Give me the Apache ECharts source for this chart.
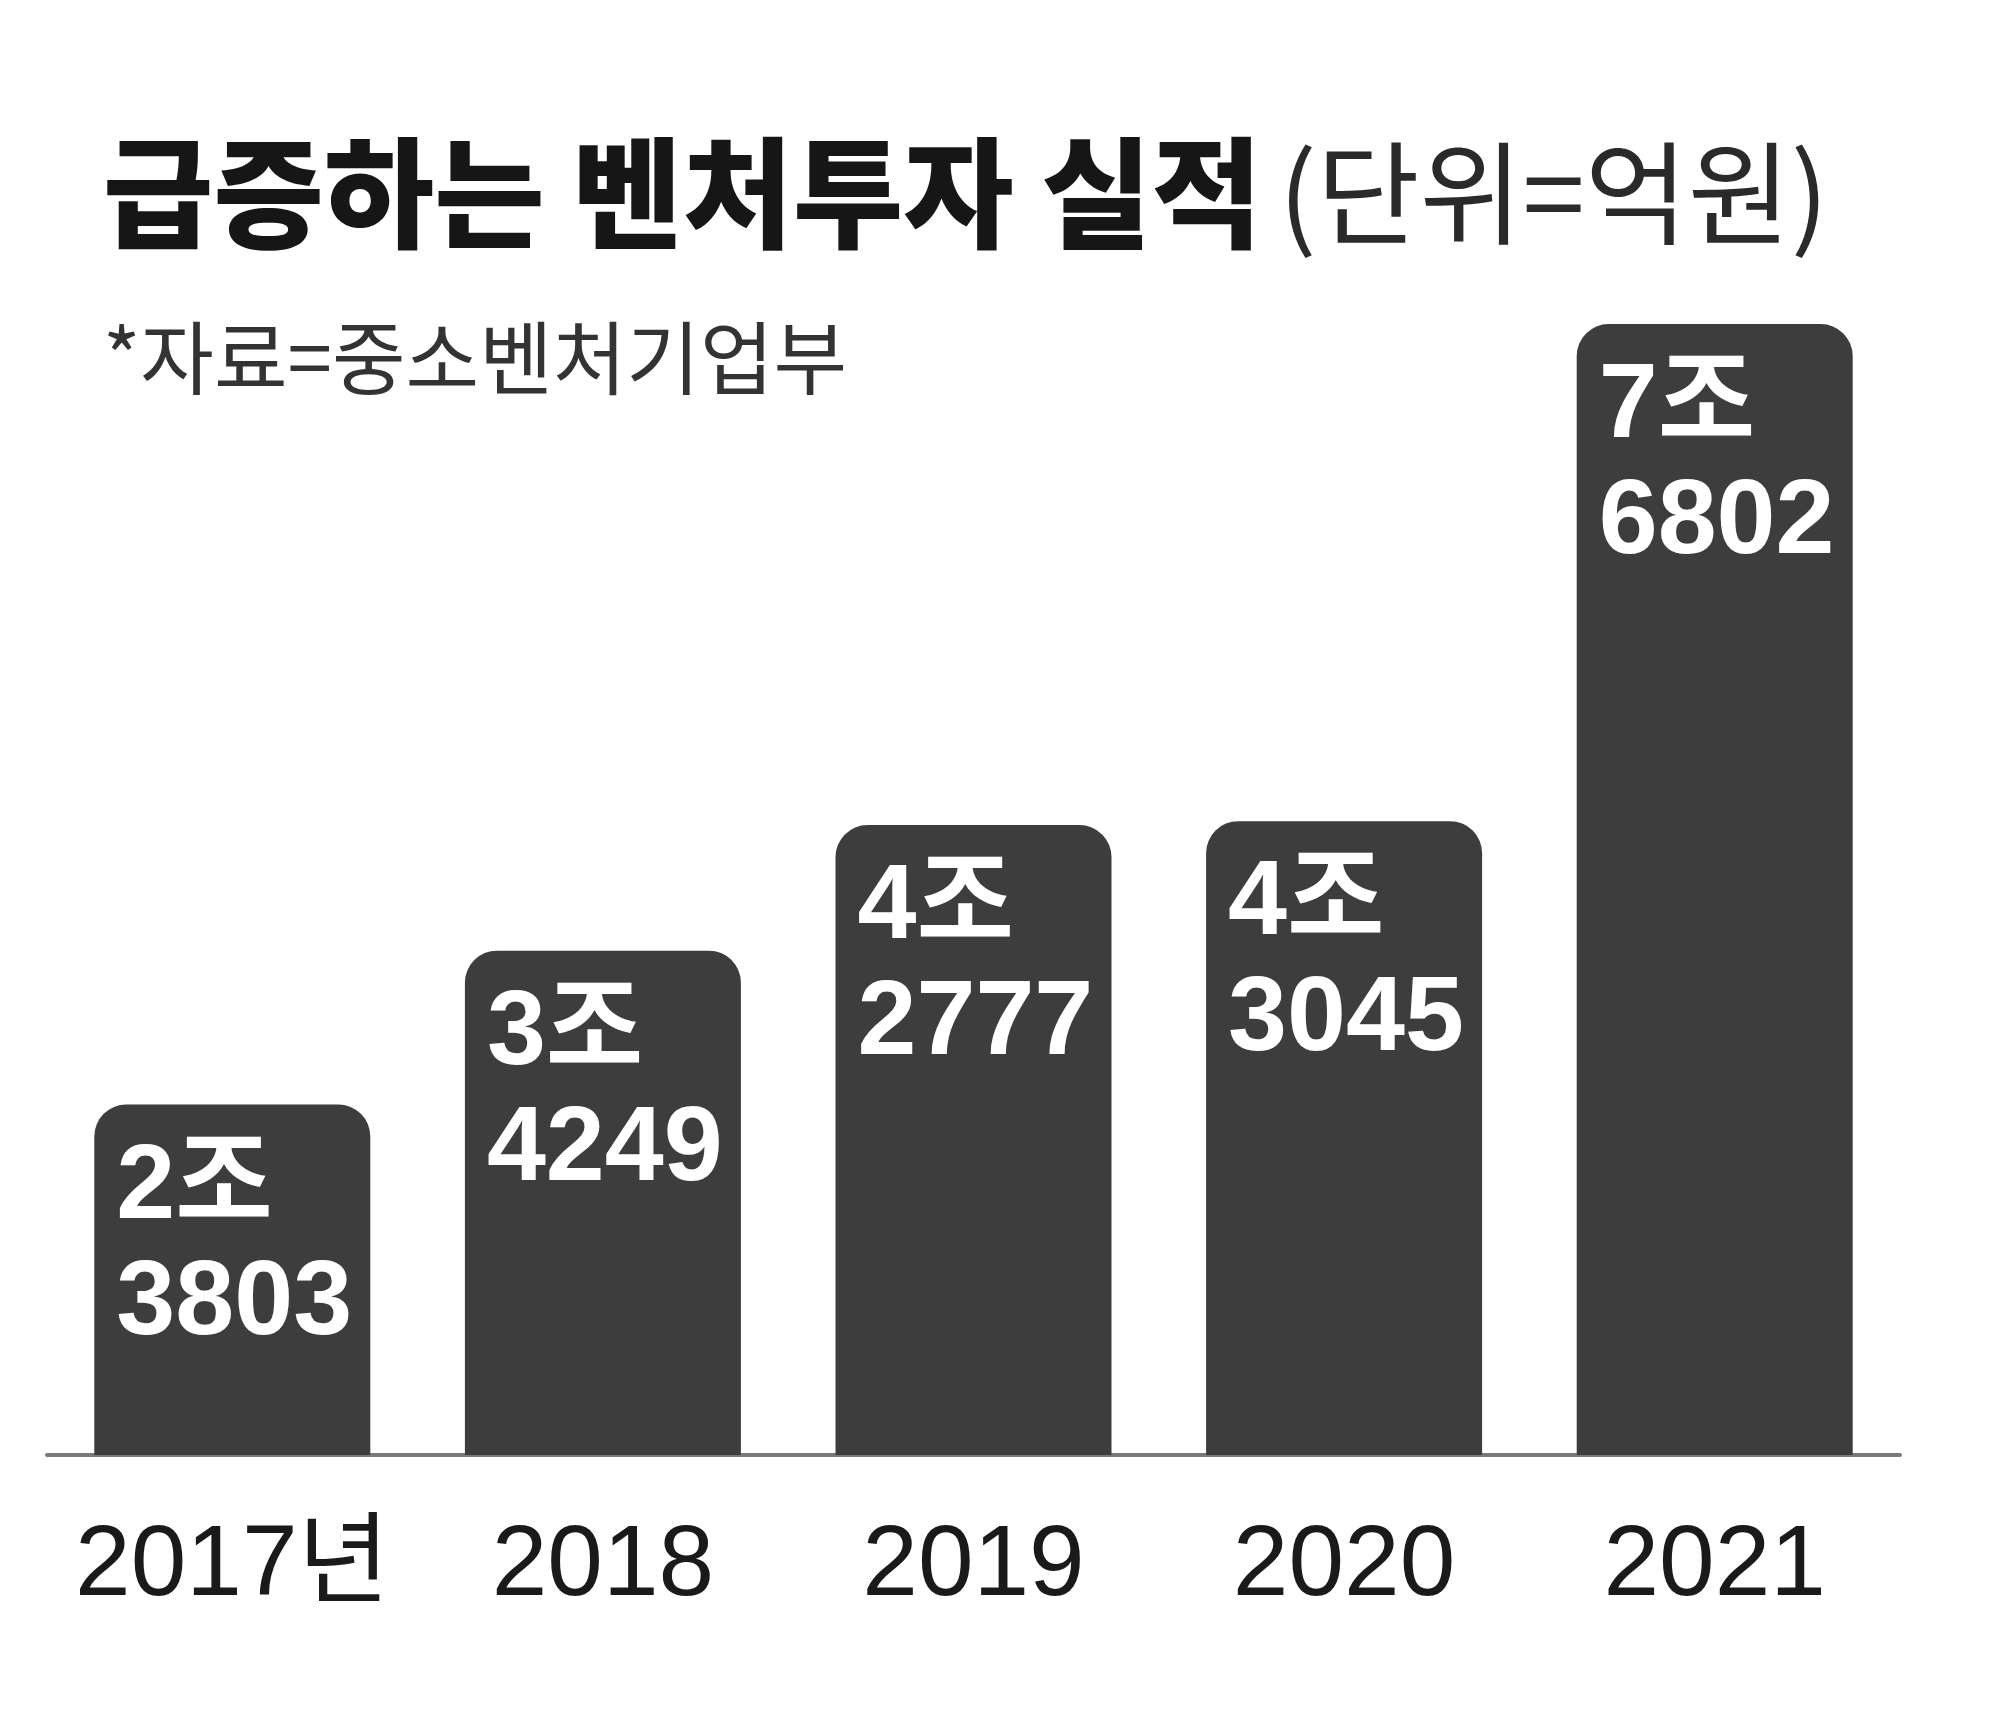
<!DOCTYPE html>
<html>
<head>
<meta charset="utf-8">
<script src="https://cdn.jsdelivr.net/npm/echarts@6/dist/echarts.min.js"></script>
<style>
html,body{margin:0;padding:0;background:#fff;}
#main{width:2000px;height:1720px;}
</style>
</head>
<body>
<div id="main"></div>
<script>
const categories = ['2017년', '2018', '2019', '2020', '2021'];
const values = [23803, 34249, 42777, 43045, 76802];
const titleMain = '급증하는 벤처투자 실적';
const titleUnit = '(단위=억원)';
const sourceText = '*자료=중소벤처기업부';

const narrow = "'Liberation Sans Narrow', 'Liberation Sans', 'Noto Sans CJK KR', sans-serif";
const chart = echarts.init(document.getElementById('main'));
chart.setOption({
  backgroundColor: '#ffffff',
  animation: false,
  title: [
    {
      left: 98, top: 128,
      text: '{a|' + titleMain + '}{s| }{b|' + titleUnit + '}',
      textStyle: {
        rich: {
          a: { fontFamily: "'Noto Sans CJK KR', sans-serif", fontWeight: 900, fontSize: 120, color: '#161616' },
          s: { fontSize: 60 },
          b: { fontFamily: "'Noto Sans CJK KR', sans-serif", fontWeight: 'normal', fontSize: 112, color: '#2a2a2a' }
        }
      }
    },
    {
      left: 98, top: 313,
      text: sourceText,
      textStyle: { fontFamily: "'Noto Sans CJK KR', sans-serif", fontWeight: 'normal', fontSize: 80, color: '#333333' }
    }
  ],
  grid: { left: 47, right: 100, top: 277, bottom: 265, containLabel: false },
  xAxis: {
    type: 'category',
    data: categories,
    axisLine: { show: true, lineStyle: { color: '#7a7a7a', width: 4 } },
    axisTick: { show: false },
    axisLabel: {
      interval: 0,
      margin: 62,
      fontFamily: narrow,
      fontSize: 100,
      color: '#1a1a1a'
    }
  },
  yAxis: {
    type: 'value',
    min: 0, max: 80000,
    show: false,
    splitLine: { show: false }
  },
  series: [{
    type: 'bar',
    data: values,
    barWidth: 276,
    itemStyle: { color: '#3d3d3d', borderRadius: [32, 32, 0, 0] },
    label: {
      show: true,
      position: [22, 26],
      align: 'left',
      verticalAlign: 'top',
      formatter: function (p) {
        const v = p.value;
        return Math.floor(v / 10000) + '조\n' + (v % 10000);
      },
      fontFamily: narrow,
      fontWeight: 'bold',
      fontSize: 106,
      lineHeight: 116,
      color: '#ffffff'
    }
  }]
});
</script>
</body>
</html>
